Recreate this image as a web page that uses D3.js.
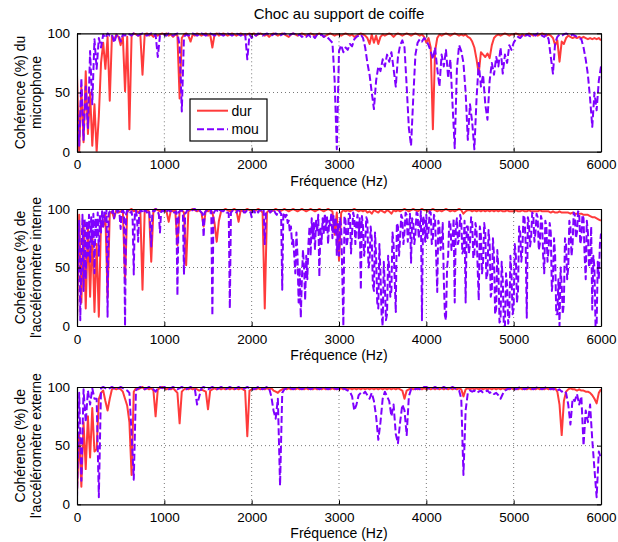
<!DOCTYPE html>
<html><head><meta charset="utf-8">
<script src="https://cdn.jsdelivr.net/npm/d3@7"></script>
<style>body{margin:0;background:#fff}svg{display:block}text{font-family:"Liberation Sans",Arial,Helvetica,sans-serif;fill:#000}</style>
</head><body>
<script>
// ---- data (coherence %, sampled every `step` Hz from 0 to 6000 Hz) ----
const stepCoarse = 25;
const stepFine = 12.5;
const xTicks = [0, 1000, 2000, 3000, 4000, 5000, 6000];
const yTicks = [0, 50, 100];
const seriesNames = ["dur", "mou"];
const title = "Choc au support de coiffe";
const xLabel = "Fréquence (Hz)";
const yLabels = [["Cohérence (%) du", "microphone"], ["Cohérence (%) de", "l'accéléromètre interne"], ["Cohérence (%) de", "l'accéléromètre externe"]];

const micDur = [
65,0,55,8,68,15,50,5,40,0, 30,75,92,70,97,43,98,94,99,97, 90,98,51,97,19,98,100,99,98,99, 65,99,100,98,99,97,99,98,99,100,
99,100,98,99,97,99,98,45,96,99, 100,98,93,99,98,100,99,98,99,100, 98,99,88,99,100,98,99,100,99,98, 99,100,99,98,99,100,99,98,99,100,
99,100,98,99,100,99,98,99,97,99, 100,99,98,99,100,99,98,97,99,100, 99,98,99,100,99,98,99,100,99,98, 99,100,99,97,98,99,100,99,98,99,
99,98,99,100,99,98,99,97,98,99, 100,99,98,96,91,99,92,98,91,97, 99,98,99,100,99,97,99,100,99,98, 99,100,99,98,99,100,99,98,99,97,
92,96,88,19,85,96,99,98,99,100, 99,98,99,100,99,98,99,98,99,97, 96,93,88,78,66,84,82,80,83,79, 90,96,98,99,98,99,100,99,98,99,
99,100,99,98,99,98,99,100,99,98, 99,98,99,100,99,98,99,98,96,90, 94,76,93,91,96,98,97,96,97,96, 97,96,97,96,95,96,95,96,95,96,
94];
const micMou = [
40,5,62,10,55,20,85,40,95,70, 96,88,99,96,100,98,99,92,98,99, 93,99,98,100,99,98,100,99,98,99, 100,99,98,99,100,98,99,80,98,99,
99,98,100,99,98,99,100,90,34,97, 99,98,99,100,99,98,99,100,99,98, 99,100,99,98,99,100,99,98,99,100, 99,98,99,100,99,98,99,100,78,99,
96,99,98,100,99,98,99,100,99,98, 99,100,99,98,99,100,99,98,99,100, 99,98,99,97,98,97,99,97,98,96, 99,98,99,97,98,96,94,92,60,2,
85,90,84,88,86,91,89,95,97,98, 99,96,88,75,65,50,36,60,72,68, 78,72,82,76,84,70,55,80,90,94, 88,55,20,5,45,82,92,95,93,96,
94,90,85,78,88,70,55,82,72,86, 62,78,40,3,70,90,85,75,50,10, 40,25,2,45,75,55,65,40,27,60, 75,65,80,72,88,66,82,75,90,86,
92,95,97,96,98,97,99,98,97,99, 98,100,99,98,97,99,95,80,66,92, 97,99,98,99,100,99,98,99,98,97, 96,95,88,78,65,45,21,50,35,60,
72];
const intDur = [
5,95,20,90,15,85,25,80,12,70, 8,90,85,95,24,96,98,92,99,97, 98,99,39,98,99,100,98,99,97,99, 31,98,99,98,55,99,100,99,98,99,
99,98,89,99,98,99,69,98,99,97, 52,98,99,100,99,98,99,97,85,99, 98,99,97,88,72,90,98,99,100,99, 98,99,100,99,89,99,98,99,100,99,
99,98,99,100,99,97,15,97,99,98, 99,100,99,98,99,100,99,98,99,100, 99,98,99,100,99,98,99,100,99,98, 99,100,99,98,99,100,99,98,78,97,
56,97,99,98,99,98,99,100,99,98, 99,98,99,97,98,96,99,98,97,99, 98,97,99,98,96,99,98,99,98,99, 100,99,98,99,100,99,98,99,100,99,
99,98,99,100,99,98,99,98,99,100, 99,98,99,98,99,100,99,96,98,99, 99,98,99,98,99,98,99,98,99,98, 99,98,99,98,99,98,98,99,98,98,
98,99,98,98,99,98,98,99,98,98, 98,98,99,98,98,98,98,97,98,97, 97,98,97,97,97,97,96,97,96,96, 96,96,95,95,95,94,93,93,92,91,
90];
// internal accelerometer, "mou": finer sampling (12.5 Hz)
const intMou = [
0,70,90,5,60,95,30,92,40,90, 60,95,55,93,70,96,45,92,75,97, 60,95,80,98,85,97,90,99,8,96, 98,99,97,99,92,98,99,97,99,95,
83,98,99,97,0,96,99,98,99,97, 98,90,44,97,99,92,72,97,98,99, 97,99,98,99,97,98,99,90,68,97, 99,98,100,99,98,95,80,97,99,98,
99,98,97,99,99,98,98,99,99,97, 97,98,26,97,98,99,99,97,44,96, 97,99,99,98,98,99,99,100,100,99, 98,99,99,98,97,96,76,97,98,99,
99,98,97,99,9,96,98,99,99,98, 97,99,99,98,98,99,99,97,97,96, 15,97,98,99,99,98,97,99,99,98, 98,99,99,97,97,98,99,99,98,97,
93,98,99,97,98,99,97,99,99,98, 97,99,70,96,98,99,99,97,98,99, 97,98,96,95,98,99,97,96,31,95, 97,93,95,88,90,80,85,70,75,60,
45,80,60,20,50,7,40,65,50,22, 60,40,70,85,60,92,75,88,65,90, 80,95,42,85,70,92,78,96,82,94, 70,90,86,97,75,94,80,93,60,88,
60,92,85,45,0,94,90,68,75,96, 95,62,80,97,92,70,88,95,75,92, 31,94,85,60,70,93,90,50,55,85, 75,35,30,80,60,20,15,70,45,10,
0,55,35,5,10,60,50,25,30,80, 70,40,12,88,85,60,75,95,92,70, 80,97,95,72,85,96,54,92,90,70, 78,97,96,75,85,98,5,94,90,72,
95,75,80,98,97,70,75,95,92,60, 29,90,85,65,70,88,40,9,5,50, 60,90,88,65,70,92,20,85,92,70, 75,95,90,62,65,90,20,85,85,62,
70,93,90,58,60,88,82,50,22,85, 78,45,55,88,80,40,45,82,70,25, 30,75,60,10,15,65,50,3,5,55, 40,0,0,45,35,2,8,60,45,10,
15,70,60,20,30,85,80,55,65,95, 92,70,7,93,88,68,75,97,95,72, 80,96,93,65,70,94,90,60,45,90, 85,55,65,88,80,30,40,75,60,10,
10,40,0,50,35,10,20,75,70,40, 50,90,85,60,70,97,95,75,80,98, 97,70,75,95,92,60,40,90,80,50, 55,85,14,60,50,0,0,55,40,70,
79];
const extDur = [
10,60,15,70,30,75,40,82,45,47, 90,95,97,88,80,90,98,99,98,99, 98,96,90,84,70,25,96,99,98,99, 100,98,99,98,99,97,75,98,99,100,
99,98,99,98,99,97,95,69,96,98, 99,98,99,98,99,98,97,98,97,96, 81,97,98,99,98,99,98,99,98,99, 98,99,98,99,98,99,98,97,58,97,
98,99,98,99,98,99,98,99,98,99, 97,96,95,97,98,99,98,99,98,99, 98,99,98,99,98,99,98,99,98,99, 98,99,98,99,98,99,98,99,98,99,
98,99,98,99,98,99,98,99,98,99, 98,99,98,99,98,99,98,99,98,99, 98,99,98,99,98,99,98,99,98,97, 90,97,98,99,98,99,98,99,98,99,
98,99,98,99,98,99,98,99,98,99, 98,99,98,99,98,99,98,92,98,99, 98,99,98,99,98,99,98,99,98,99, 98,99,98,99,98,99,98,99,98,99,
98,99,98,99,98,99,98,99,98,99, 98,99,98,99,98,99,98,99,98,99, 96,85,59,88,96,98,99,98,98,97, 98,97,97,96,96,95,93,90,86,95,
98];
const extMou = [
5,95,20,98,70,97,85,99,90,90, 6,99,100,99,98,99,100,99,98,99, 100,99,98,97,95,60,21,97,99,100, 99,98,99,100,99,98,96,99,100,99,
100,99,98,99,100,99,98,99,100,99, 98,99,100,99,98,85,92,99,100,99, 98,99,100,99,98,99,100,99,98,99, 100,99,98,99,100,99,98,99,100,99,
99,98,99,100,99,98,99,100,99,92, 80,73,90,16,95,98,99,100,99,98, 99,100,99,98,99,100,99,98,99,100, 99,98,99,100,99,98,99,100,99,98,
99,98,99,98,97,96,92,80,85,93, 95,94,96,93,90,95,88,75,55,70, 90,96,92,88,75,85,60,52,70,85, 80,59,92,98,99,98,99,98,99,100,
100,99,98,99,100,99,98,99,100,99, 98,99,100,99,98,97,90,25,80,95, 97,96,97,95,96,97,95,96,97,95, 96,94,95,93,90,94,97,98,99,98,
99,98,99,100,99,98,99,100,99,98, 99,100,99,98,99,100,99,98,99,97, 97,98,96,97,95,85,68,90,88,94, 85,92,50,80,70,85,55,30,6,45,
39];

const panelsData = [
  [{v: micDur, step: stepCoarse}, {v: micMou, step: stepCoarse}],
  [{v: intDur, step: stepCoarse}, {v: intMou, step: stepFine}],
  [{v: extDur, step: stepCoarse}, {v: extMou, step: stepCoarse}]
];
const colors = ["#ff3b3b", "#7f00ff"];

// ---- layout ----
const W = 618, H = 542;
const X0 = 77, X1 = 601;
const panelY = [[33.3, 151.7], [209, 326], [387, 504.3]];

const svg = d3.select("body").append("svg").attr("width", W).attr("height", H);

svg.append("text").attr("x", 339).attr("y", 19).attr("text-anchor", "middle")
  .style("font-size", "15px").text(title);

panelsData.forEach((series, p) => {
  const [yt, yb] = panelY[p];
  const x = d3.scaleLinear().domain([0, 6000]).range([X0, X1]);
  const y = d3.scaleLinear().domain([0, 100]).range([yb, yt]);
  const g = svg.append("g");
  const clipId = "clip" + p;
  svg.append("clipPath").attr("id", clipId).append("rect")
    .attr("x", X0).attr("y", yt - 1).attr("width", X1 - X0).attr("height", yb - yt + 1);

  // grid
  g.selectAll(".gx").data(xTicks.slice(1, -1)).join("line")
    .attr("x1", d => x(d)).attr("x2", d => x(d)).attr("y1", yt).attr("y2", yb)
    .attr("stroke", "#777").attr("stroke-width", 1).attr("stroke-dasharray", "1,3");
  g.selectAll(".gy").data([50]).join("line")
    .attr("x1", X0).attr("x2", X1).attr("y1", d => y(d)).attr("y2", d => y(d))
    .attr("stroke", "#777").attr("stroke-width", 1).attr("stroke-dasharray", "1,3");

  // lines
  const lg = g.append("g").attr("clip-path", `url(#${clipId})`);
  series.forEach((s, k) => {
    const line = d3.line().x((d, i) => x(i * s.step)).y(d => y(d));
    lg.append("path").datum(s.v).attr("d", line).attr("fill", "none")
      .attr("stroke", colors[k]).attr("stroke-width", 2)
      .attr("stroke-linejoin", "round")
      .attr("stroke-dasharray", k ? "7,3" : null);
  });

  // axes box + ticks (inward, both sides)
  const fmt = d3.format("d");
  const axB = g.append("g").attr("transform", `translate(0,${yb})`)
    .call(d3.axisBottom(x).tickValues(xTicks).tickFormat(fmt).tickSizeInner(-4).tickSizeOuter(0).tickPadding(8));
  const axT = g.append("g").attr("transform", `translate(0,${yt})`)
    .call(d3.axisTop(x).tickValues(xTicks).tickSizeInner(-4).tickSizeOuter(0).tickFormat(""));
  const axL = g.append("g").attr("transform", `translate(${X0},0)`)
    .call(d3.axisLeft(y).tickValues(yTicks).tickFormat(fmt).tickSizeInner(-4).tickSizeOuter(0).tickPadding(7));
  const axR = g.append("g").attr("transform", `translate(${X1},0)`)
    .call(d3.axisRight(y).tickValues(yTicks).tickSizeInner(-4).tickSizeOuter(0).tickFormat(""));
  [axB, axT, axL, axR].forEach(a => {
    a.selectAll(".domain").attr("stroke", "#000").attr("stroke-width", 1.2);
    a.selectAll(".tick line").attr("stroke", "#000");
    a.selectAll("text").style("font-size", "13.5px").attr("fill", "#000")
      .style("font-family", '"Liberation Sans",Arial,sans-serif');
  });

  // x label
  svg.append("text").attr("x", 339).attr("y", yb + 34).attr("text-anchor", "middle")
    .style("font-size", "14px").text(xLabel);
  // y label
  const cy = (yt + yb) / 2;
  const yl = svg.append("text").attr("transform", `translate(25,${cy}) rotate(-90)`)
    .attr("text-anchor", "middle").style("font-size", "14px");
  yl.append("tspan").attr("x", 0).attr("y", 0).text(yLabels[p][0]);
  yl.append("tspan").attr("x", 0).attr("y", 16).text(yLabels[p][1]);

  // legend in first panel
  if (p === 0) {
    const L = svg.append("g");
    L.append("rect").attr("x", 190).attr("y", 99).attr("width", 77).attr("height", 42)
      .attr("fill", "#fff").attr("stroke", "#000").attr("stroke-width", 1.2);
    [0, 1].forEach(k => {
      const ly = 110.7 + k * 18.6;
      L.append("line").attr("x1", 197).attr("x2", 228).attr("y1", ly).attr("y2", ly)
        .attr("stroke", colors[k]).attr("stroke-width", 2)
        .attr("stroke-dasharray", k ? "7,3" : null);
      L.append("text").attr("x", 231.5).attr("y", ly + 5).style("font-size", "14px").text(seriesNames[k]);
    });
  }
});
</script>
</body></html>
